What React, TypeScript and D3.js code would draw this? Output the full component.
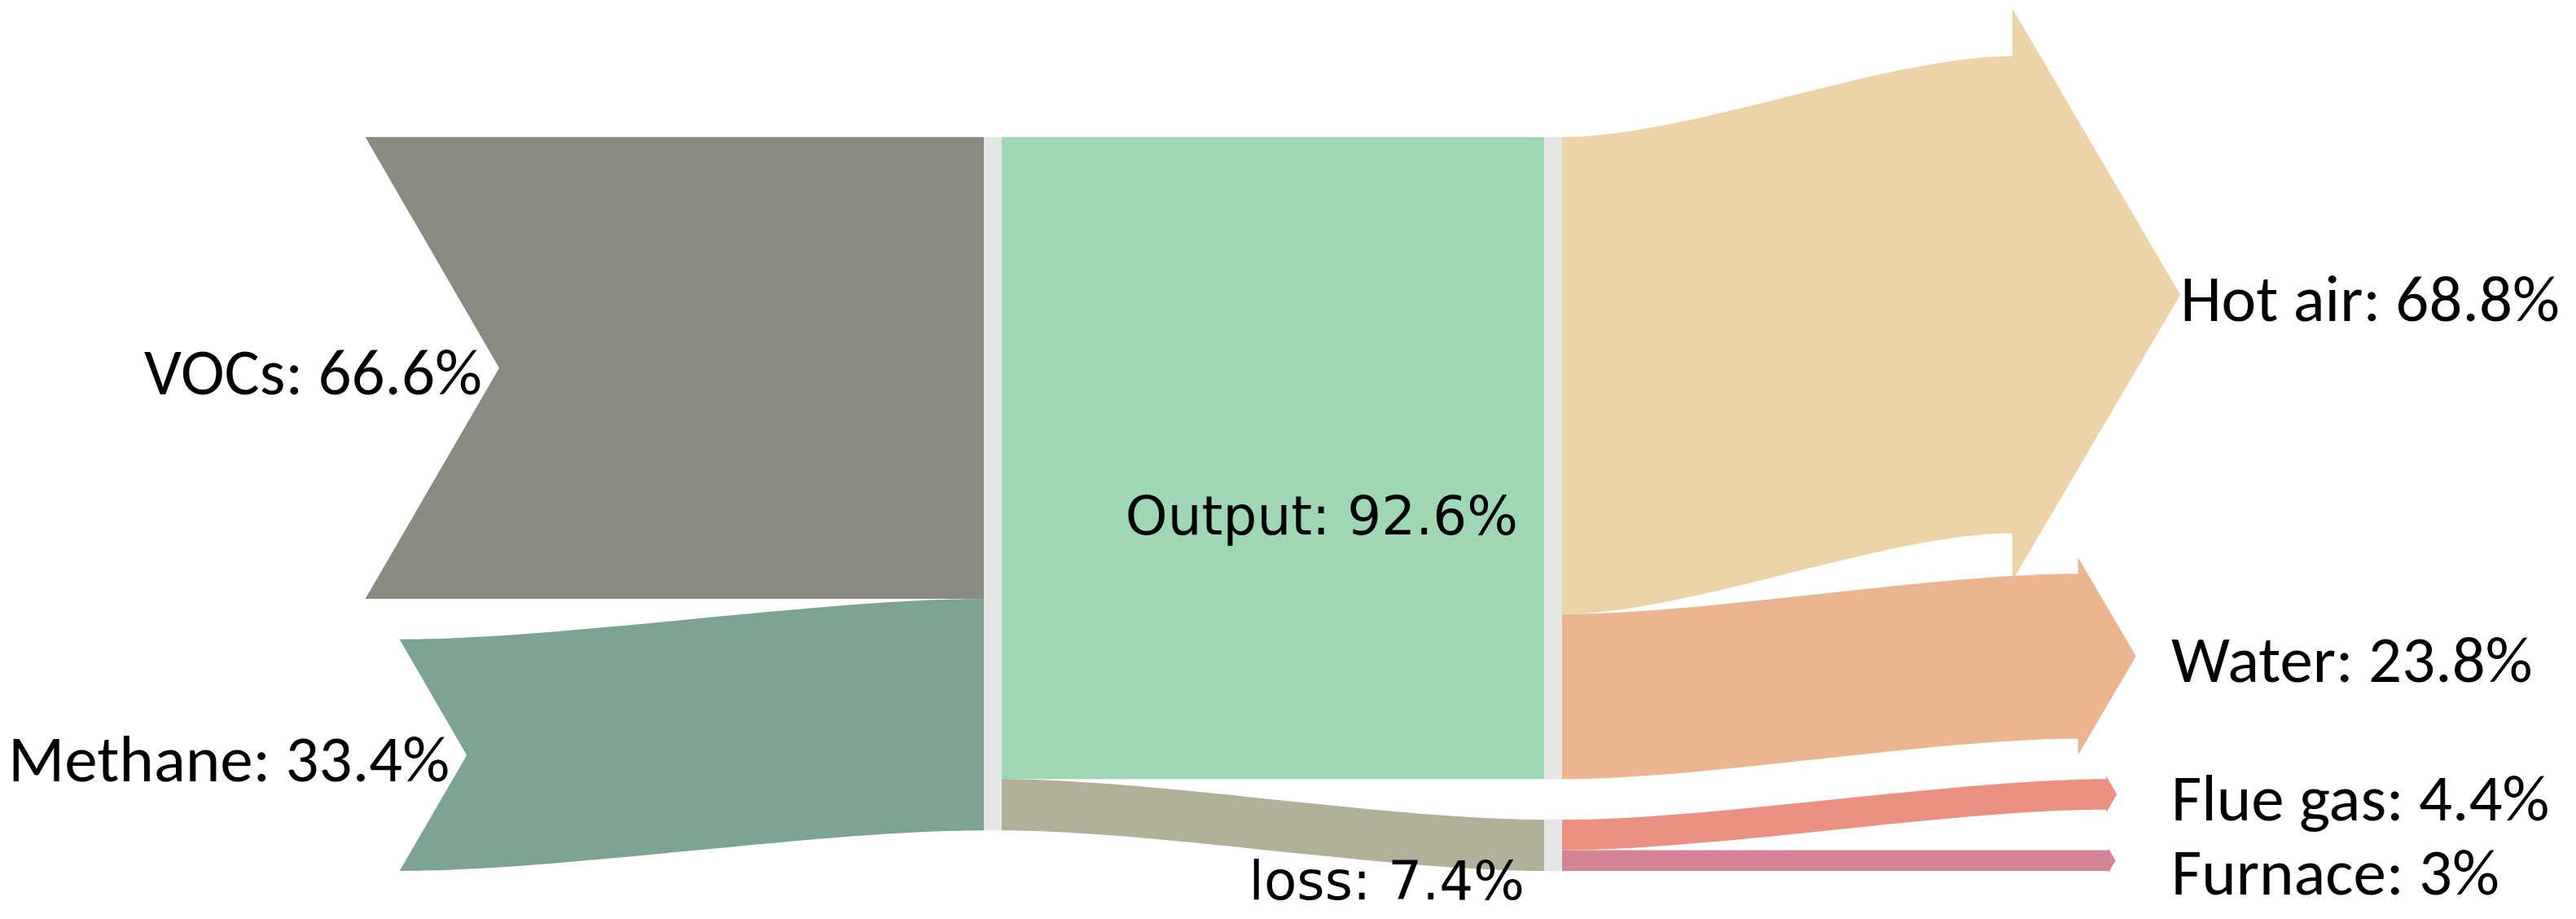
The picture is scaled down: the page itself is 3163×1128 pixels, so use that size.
import React from 'react';
import * as d3 from 'd3';

// inputs -> hub -> output/loss -> end uses (shares of total, %)
const sources = ['VOCs', 'Methane'];
const sourceValues = [66.6, 33.4];
const middles = ['Output', 'loss'];
const middleValues = [92.6, 7.4];
const targets = ['Hot air', 'Water', 'Flue gas', 'Furnace'];
const targetValues = [68.8, 23.8, 4.4, 3];

const sourceColors = ['#898b80', '#7da395'];
const middleColors = ['#9fd6b4', '#b0b198'];
const targetColors = ['#ecd4a8', '#ebb68f', '#eb9184', '#d38596'];
const barColor = '#e6e6e6';

const W = 3163;
const H = 1128;
const yTop = 69;
const yBottom = 1069;
const hubX0 = 1208, hubX1 = 1230;
const midX0 = 1896, midX1 = 1918;
const inAnchor = 533;
const outAnchor = 2594;
const curv = 0.28;
const outerSize = 81;
const outerFont = 'Carlito, Calibri, Lato, sans-serif';
const innerFont = '"DejaVu Sans", Verdana, sans-serif';

const total = d3.sum(sourceValues);
const ky = d3.scaleLinear().domain([0, total]).range([0, 851]);
const pad = (yBottom - yTop - ky(d3.sum(targetValues))) / (targets.length - 1);

// stack a column, bottom aligned unless a top is given
const stack = (vals: number[], top?: number) => {
  const span = ky(d3.sum(vals)) + pad * (vals.length - 1);
  let y = top ?? yBottom - span;
  return vals.map(v => {
    const y0 = y;
    y += ky(v) + pad;
    return { y0, y1: y0 + ky(v) };
  });
};

const srcNodes = stack(sourceValues);
const hubTop = srcNodes[0].y0;
const midNodes = stack(middleValues);
const tgtNodes = stack(targetValues, yTop);

// band positions on the hub and on the middle bar
const cumul = (vals: number[], start: number) => {
  let y = start;
  return vals.map(v => { const y0 = y; y += ky(v); return y0; });
};
const hubIn = cumul(sourceValues, hubTop);
const hubOut = cumul(middleValues, hubTop);
const midOut = [
  ...cumul(targetValues.slice(0, 2), midNodes[0].y0),
  ...cumul(targetValues.slice(2), midNodes[1].y0),
];

// one edge of a band, as a gentle s-curve
const edge = (p: d3.Path, xa: number, ya: number, xb: number, yb: number) => {
  const c1 = xa + (xb - xa) * curv;
  const c2 = xb - (xb - xa) * curv;
  p.bezierCurveTo(c1, ya, c2, yb, xb, yb);
};

const band = (xa: number, ya: number, xb: number, yb: number, w: number) => {
  const p = d3.path();
  p.moveTo(xa, ya);
  edge(p, xa, ya, xb, yb);
  p.lineTo(xb, yb + w);
  edge(p, xb, yb + w, xa, ya + w);
  p.closePath();
  return p.toString();
};

const sourcePath = (i: number) => {
  const w = ky(sourceValues[i]);
  const tail = inAnchor - 0.149 * w;
  const notch = tail + 0.29 * w;
  const ys = srcNodes[i].y0;
  const yh = hubIn[i];
  const p = d3.path();
  p.moveTo(tail, ys);
  edge(p, tail, ys, hubX0, yh);
  p.lineTo(hubX0, yh + w);
  edge(p, hubX0, yh + w, tail, ys + w);
  p.lineTo(notch, ys + w / 2);
  p.closePath();
  return p.toString();
};

const targetGeom = (i: number) => {
  const w = ky(targetValues[i]);
  const base = outAnchor - 0.21 * w;
  const tip = outAnchor + 0.142 * w;
  const ym = midOut[i];
  const yt = tgtNodes[i].y0;
  const p = d3.path();
  p.moveTo(midX1, ym);
  edge(p, midX1, ym, base, yt);
  p.lineTo(base, yt - 0.1 * w);
  p.lineTo(tip, yt + w / 2);
  p.lineTo(base, yt + w + 0.1 * w);
  p.lineTo(base, yt + w);
  edge(p, base, yt + w, midX1, ym + w);
  p.closePath();
  return { d: p.toString(), tip, cy: yt + w / 2 };
};

const targetGeoms = targets.map((_, i) => targetGeom(i));

// keep the right-hand labels apart
const labelY: number[] = [];
targetGeoms.forEach((g, i) => {
  let y = g.cy + 3;
  if (i > 0) y = Math.max(y, labelY[i - 1] + 91);
  labelY.push(y);
});
const capHalf = outerSize * 0.7165 / 2;

const midLabelDy = [94, 66];
const midLabelDx = [32, 24];

const fmt = (name: string, v: number) => `${name}: ${v}%`;

export default function App() {
  return (
    <>
      <style>{'body{margin:0}'}</style>
      <svg width={W} height={H} style={{ display: 'block', background: '#fff' }}>
        {sources.map((s, i) => (
          <path key={s} d={sourcePath(i)} fill={sourceColors[i]} />
        ))}
        {middles.map((m, i) => {
          const w = ky(middleValues[i]);
          return (
            <path key={m} d={band(hubX1, hubOut[i], midX0, midNodes[i].y0, w)} fill={middleColors[i]} />
          );
        })}
        {targets.map((t, i) => (
          <path key={t} d={targetGeoms[i].d} fill={targetColors[i]} />
        ))}

        <rect x={hubX0} y={hubTop} width={hubX1 - hubX0} height={ky(total)} fill={barColor} />
        {midNodes.map((n, i) => (
          <rect key={i} x={midX0} y={n.y0} width={midX1 - midX0} height={n.y1 - n.y0} fill={barColor} />
        ))}

        <g fontFamily={outerFont} fontSize={outerSize} fill="#000">
          {sources.map((s, i) => {
            const w = ky(sourceValues[i]);
            const notch = inAnchor - 0.149 * w + 0.29 * w;
            return (
              <text key={s} x={notch - 21} y={(srcNodes[i].y0 + srcNodes[i].y1) / 2 + 3 + capHalf} textAnchor="end">
                {fmt(s, sourceValues[i])}
              </text>
            );
          })}
          {targets.map((t, i) => (
            <text key={t} x={Math.max(targetGeoms[i].tip, outAnchor + 72)} y={labelY[i] + capHalf}>
              {fmt(t, targetValues[i])}
            </text>
          ))}
        </g>

        <g fontFamily={innerFont} fontSize={66} fill="#000">
          {middles.map((m, i) => (
            <text key={m} x={midX0 - midLabelDx[i]} y={(midNodes[i].y0 + midNodes[i].y1) / 2 + midLabelDy[i]} textAnchor="end">
              {fmt(m, middleValues[i])}
            </text>
          ))}
        </g>
      </svg>
    </>
  );
}
